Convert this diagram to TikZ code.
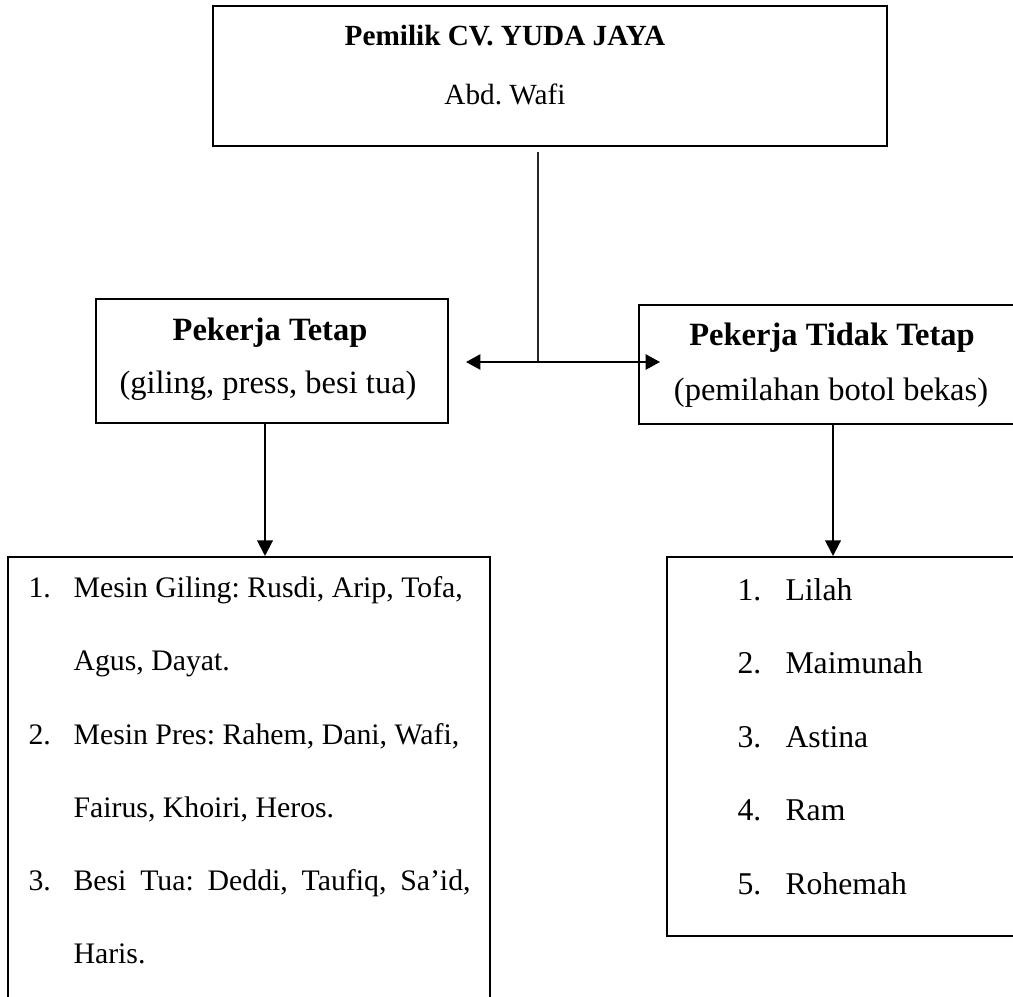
\documentclass[tikz,border=0pt]{standalone}
\usepackage{fontspec}
\setmainfont{Liberation Serif}
\usetikzlibrary{fit,arrows.meta}
\frenchspacing
\begin{document}
\frenchspacing
\begin{tikzpicture}[x=0.36923pt,y=-0.36923pt,
  box/.style={draw,line width=0.75pt,inner sep=0pt},
  txt/.style={font=\fontsize{12}{14}\selectfont,inner sep=0pt,anchor=base},
  toptxt/.style={font=\fontsize{10.8}{13}\selectfont,inner sep=0pt,anchor=base},
  itm/.style={font=\fontsize{11}{13}\selectfont,inner sep=0pt,anchor=base west},
  itmr/.style={font=\fontsize{11.7}{14}\selectfont,inner sep=0pt,anchor=base west},
  arr/.style={line width=0.75pt,-{Triangle[length=5.8pt,width=5.8pt]}},
  thinline/.style={line width=0.4pt,black!85},
]
\useasboundingbox (0,0) rectangle (1013,996);
\clip (0,0) rectangle (1013,996);

% boxes
\node[box,line width=0.85pt,fit={(213,6)(887,146)}] (owner) {};
\node[box,fit={(96,299)(448,423)}] (tetap) {};
\node[box,fit={(639,305)(1030,424)}] (tidak) {};
\node[box,fit={(8,557)(490,1030)}] (listA) {};
\node[box,fit={(667,557)(1030,936)}] (listB) {};

% owner texts
\node[toptxt] (ownerT) at (505,46) {\textbf{Pemilik CV. YUDA JAYA}};
\node[toptxt] (ownerN) at (505,105) {Abd. Wafi};

% middle texts
\node[txt] (tetapT) at (270,340) {\textbf{Pekerja Tetap}};
\node[txt] (tetapS) at (268,393) {(giling, press, besi tua)};
\node[txt] (tidakT) at (832,345) {\textbf{Pekerja Tidak Tetap}};
\node[txt] (tidakS) at (831,400) {(pemilahan botol bekas)};

% left list
\node[itm] (a1n) at (28,597) {1.};
\node[itm] (a1) at (73,597) {Mesin Giling: Rusdi, Arip, Tofa,};
\node[itm] (a1b) at (73,670) {Agus, Dayat.};
\node[itm] (a2n) at (28,744) {2.};
\node[itm] (a2) at (73,744) {Mesin Pres: Rahem, Dani, Wafi,};
\node[itm] (a2b) at (73,817) {Fairus, Khoiri, Heros.};
\node[itm] (a3n) at (28,890) {3.};
\node[itm] (a3) at (73,890) {\makebox[146.6pt][s]{Besi Tua: Deddi, Taufiq, Sa’id,}};
\node[itm] (a3b) at (73,963) {Haris.};

% right list
\node[itmr] (b1n) at (737,600) {1.};
\node[itmr] (b1) at (785,600) {Lilah};
\node[itmr] (b2n) at (737,673) {2.};
\node[itmr] (b2) at (785,673) {Maimunah};
\node[itmr] (b3n) at (737,747) {3.};
\node[itmr] (b3) at (785,747) {Astina};
\node[itmr] (b4n) at (737,820) {4.};
\node[itmr] (b4) at (785,820) {Ram};
\node[itmr] (b5n) at (737,894) {5.};
\node[itmr] (b5) at (785,894) {Rohemah};

% connectors
\coordinate (jtop) at (538,152);
\coordinate (jmid) at (538,362);
\coordinate (hl) at (466,362);
\coordinate (hr) at (660,362);
\coordinate (xa) at (265,0);
\coordinate (xb) at (833,0);
\draw[thinline] (jtop) -- (jmid);
\draw[line width=0.75pt,{Triangle[length=5.3pt,width=5.6pt]}-{Triangle[length=5.3pt,width=5.6pt]}] (hl) -- (hr);
\draw[arr] (tetap.south -| xa) -- (listA.north -| xa);
\draw[arr] (tidak.south -| xb) -- (listB.north -| xb);
\end{tikzpicture}
\end{document}
